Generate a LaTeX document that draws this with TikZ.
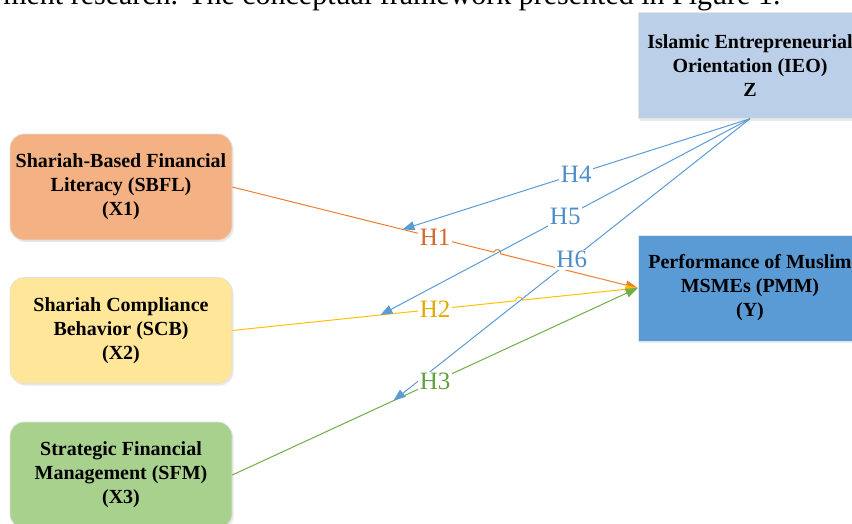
\documentclass[tikz,border=0pt]{standalone}
\usepackage{fontspec}
\setmainfont{Liberation Serif}
\usetikzlibrary{arrows.meta,calc,shadows}
\definecolor{ieoC}{HTML}{BCCFE8}
\definecolor{sbflC}{HTML}{F4B183}
\definecolor{scbC}{HTML}{FFE699}
\definecolor{sfmC}{HTML}{A9D18E}
\definecolor{pmmC}{HTML}{5B9BD5}
\definecolor{orL}{HTML}{ED7D31}
\definecolor{yeL}{HTML}{FFC000}
\definecolor{grL}{HTML}{70AD47}
\definecolor{blL}{HTML}{5B9BD5}
\definecolor{orT}{HTML}{D2692A}
\definecolor{yeT}{HTML}{E2AA00}
\definecolor{grT}{HTML}{62A03E}
\definecolor{blT}{HTML}{4F8DC8}
\tikzset{
  boxtext/.style={align=center,font=\bfseries\fontsize{20}{24}\selectfont,text=black},
  lbox/.style={boxtext,rounded corners=14pt,minimum width=222pt,minimum height=106pt,
    draw=black!12,line width=0.6pt,
    drop shadow={opacity=0.18,shadow xshift=1.5pt,shadow yshift=-2pt}},
  rbox/.style={boxtext,rectangle,minimum width=224pt,minimum height=106pt,
    draw=black!10,line width=0.5pt,
    drop shadow={opacity=0.18,shadow xshift=1.5pt,shadow yshift=-2pt}},
  conn/.style={line width=1pt,-{Triangle[length=12pt,width=9pt]}},
  lab/.style={fill=white,inner sep=1.5pt,font=\fontsize{25}{25}\selectfont}
}
\begin{document}
\begin{tikzpicture}[x=1pt,y=-1pt]
\useasboundingbox (0,0) rectangle (852,523);
\begin{scope}
\clip (0,0) rectangle (852,523);
\node[anchor=base east,font=\fontsize{30}{30}\selectfont] (toptext) at (784,4)
  {ment research. The conceptual framework presented in Figure 1.};
\node[rbox,fill=ieoC] (ieo) at (750,65.5) {Islamic Entrepreneurial\\Orientation (IEO)\\Z};
\node[rbox,fill=pmmC] (pmm) at (750,288) {Performance of Muslim\\MSMEs (PMM)\\(Y)};
\node[lbox,fill=sbflC] (sbfl) at (121,187) {Shariah-Based Financial\\Literacy (SBFL)\\(X1)};
\node[lbox,fill=scbC] (scb) at (121,330.5) {Shariah Compliance\\Behavior (SCB)\\(X2)};
\node[lbox,fill=sfmC] (sfm) at (121,475) {Strategic Financial\\Management (SFM)\\(X3)};
\end{scope}
% targets on lines
\coordinate (t4) at ($(sbfl.east)!0.4198!(pmm.west)$);
\coordinate (t5) at ($(scb.east)!0.3654!(pmm.west)$);
\coordinate (t6) at ($(sfm.east)!0.3975!(pmm.west)$);
\coordinate (x15) at ($(sbfl.east)!0.6536!(pmm.west)$);
\coordinate (x26) at ($(scb.east)!0.7074!(pmm.west)$);
% main lines
\draw[conn,draw=orL] (sbfl.east) -- ($(x15)!3.5pt!(sbfl.east)$)
   arc[start angle=-166,end angle=14,radius=3.5] -- (pmm.west);
\draw[conn,draw=yeL] (scb.east) -- ($(x26)!3.5pt!(scb.east)$)
   arc[start angle=-186,end angle=-6,radius=3.5] -- (pmm.west);
\draw[conn,draw=grL] (sfm.east) -- (pmm.west);
% moderation lines
\draw[conn,draw=blL] (ieo.south) -- (t4);
\draw[conn,draw=blL] (ieo.south) -- (t5);
\draw[conn,draw=blL] (ieo.south) -- (t6);
% labels
\path (sbfl.east) -- (pmm.west) node[lab,text=orT,pos=0.5] (h1) {H1};
\path (scb.east) -- (pmm.west) node[lab,text=yeT,pos=0.5] (h2) {H2};
\path (sfm.east) -- (pmm.west) node[lab,text=grT,pos=0.5] (h3) {H3};
\path (ieo.south) -- (t4) node[lab,text=blT,pos=0.5] (h4) {H4};
\path (ieo.south) -- (t5) node[lab,text=blT,pos=0.5] (h5) {H5};
\path (ieo.south) -- (t6) node[lab,text=blT,pos=0.5] (h6) {H6};
\end{tikzpicture}
\end{document}
